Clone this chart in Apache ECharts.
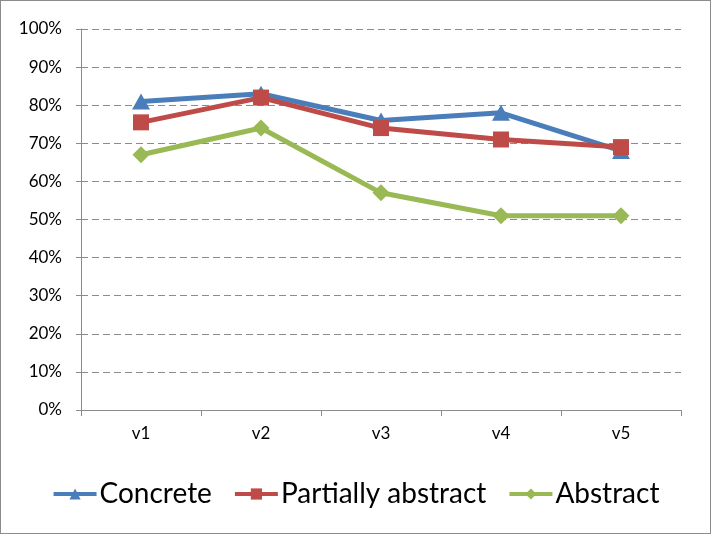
<!DOCTYPE html>
<html><head><meta charset="utf-8">
<script src="https://cdn.jsdelivr.net/npm/echarts@6/dist/echarts.min.js"></script>
<style>html,body{margin:0;padding:0;background:#fff}#c{width:709px;height:532px;border:1px solid #8c8c8c}</style>
</head><body><div id="c"></div>
<script>
const categories = ['v1','v2','v3','v4','v5'];
const concrete = [81, 83, 76, 78, 68];
const partial = [75.5, 82, 74, 71, 69];
const abstract = [67, 74, 57, 51, 51];
const yTicks = [0,10,20,30,40,50,60,70,80,90,100];

const chart = echarts.init(document.getElementById('c'));
const font = 'Lato, sans-serif';
chart.setOption({
  animation: false,
  grid: {left: 80, right: 29, top: 28, bottom: 123},
  legend: {
    top: 474, left: 'center', itemWidth: 43, itemHeight: 14, itemGap: 21,
    lineStyle: {width: 4},
    textStyle: {fontSize: 28, color: '#000', fontFamily: font, padding: [0,0,0,-2]},
    data: ['Concrete','Partially abstract','Abstract']
  },
  xAxis: {
    type: 'category', data: categories, boundaryGap: true,
    axisLine: {lineStyle: {color: '#8c8c8c', width: 1}},
    axisTick: {show: true, length: 6, lineStyle: {color: '#8c8c8c'}},
    axisLabel: {fontSize: 17, color: '#000', margin: 15, fontFamily: font}
  },
  yAxis: {
    type: 'value', min: 0, max: 100, interval: 10,
    axisLine: {show: true, lineStyle: {color: '#8c8c8c', width: 1}},
    axisTick: {show: true, length: 5, lineStyle: {color: '#8c8c8c'}},
    axisLabel: {fontSize: 17, color: '#000', margin: 19, fontFamily: font, formatter: v => yTicks.includes(v) ? v + '%' : ''},
    splitLine: {lineStyle: {color: '#8c8c8c', type: [7, 4], width: 1}}
  },
  series: [
    {name: 'Concrete', type: 'line', data: concrete, symbol: 'triangle', symbolSize: [18, 16],
     lineStyle: {width: 5, color: '#4a7ebb'}, itemStyle: {color: '#4a7ebb'}},
    {name: 'Partially abstract', type: 'line', data: partial, symbol: 'rect', symbolSize: 16,
     lineStyle: {width: 5, color: '#be4b48'}, itemStyle: {color: '#be4b48'}},
    {name: 'Abstract', type: 'line', data: abstract, symbol: 'diamond', symbolSize: 17,
     lineStyle: {width: 5, color: '#98b954'}, itemStyle: {color: '#98b954'}}
  ]
});
</script></body></html>
